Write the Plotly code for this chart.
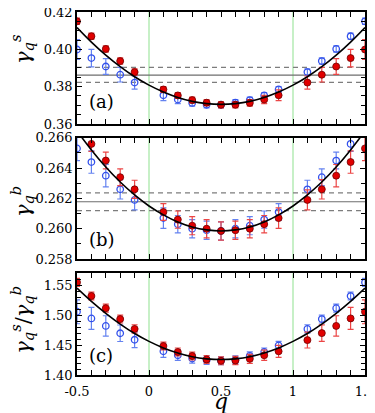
import plotly.graph_objects as go

# q points of the data (no data at q=0 and q=1)
q = [-0.5, -0.4, -0.3, -0.2, -0.1, 0.1, 0.2, 0.3, 0.4, 0.5,
     0.6, 0.7, 0.8, 0.9, 1.1, 1.2, 1.3, 1.4, 1.5]

# panel (a): gamma_q^s
gs_red = [0.4150, 0.4070, 0.4002, 0.3937, 0.3878, 0.3785, 0.3753, 0.3728, 0.3714, 0.3703,
          0.3703, 0.3713, 0.3731, 0.3754, 0.3822, 0.3864, 0.3908, 0.3953, 0.3999]
gs_red_err = [0.0017, 0.0017, 0.0017, 0.0017, 0.0018, 0.0015, 0.0015, 0.0016, 0.0016, 0.0017,
              0.0017, 0.0017, 0.0022, 0.0029, 0.0035, 0.0039, 0.0042, 0.0047, 0.0053]
gs_blue = [0.3999, 0.3953, 0.3908, 0.3864, 0.3822, 0.3754, 0.3731, 0.3713, 0.3703, 0.3703,
           0.3714, 0.3728, 0.3753, 0.3785, 0.3878, 0.3937, 0.4002, 0.4070, 0.4150]
gs_blue_err = [0.0053, 0.0047, 0.0042, 0.0039, 0.0035, 0.0029, 0.0022, 0.0017, 0.0017, 0.0017,
               0.0016, 0.0016, 0.0015, 0.0015, 0.0018, 0.0017, 0.0017, 0.0017, 0.0017]

# panel (b): gamma_q^b
gb_red = [0.2670, 0.2656, 0.2645, 0.2634, 0.2626, 0.2611, 0.2606, 0.2602, 0.2600, 0.25985,
          0.2599, 0.2600, 0.2603, 0.2607, 0.2619, 0.2626, 0.2635, 0.2644, 0.2653]
gb_red_err = [0.0005, 0.0005, 0.00055, 0.00055, 0.0006, 0.00055, 0.00057, 0.0006, 0.0006, 0.0006,
              0.0006, 0.0006, 0.00057, 0.00068, 0.00066, 0.00064, 0.00074, 0.00074, 0.0008]
gb_blue = [0.2653, 0.2644, 0.2635, 0.2626, 0.2619, 0.2607, 0.2603, 0.2600, 0.2599, 0.25985,
           0.2600, 0.2602, 0.2606, 0.2611, 0.2626, 0.2634, 0.2645, 0.2656, 0.2670]
gb_blue_err = [0.0008, 0.00074, 0.00074, 0.00064, 0.00066, 0.00068, 0.00057, 0.0006, 0.0006, 0.0006,
               0.0006, 0.0006, 0.00057, 0.00055, 0.0006, 0.00055, 0.00055, 0.0005, 0.0005]

# panel (c): ratio
gr_red = [1.5548, 1.5320, 1.5117, 1.4935, 1.4770, 1.4484, 1.4385, 1.4318, 1.4260, 1.4237,
          1.4242, 1.4270, 1.4330, 1.4396, 1.4583, 1.4700, 1.4820, 1.4946, 1.5057]
gr_red_err = [0.0066, 0.0066, 0.0066, 0.0066, 0.0070, 0.0066, 0.0066, 0.0066, 0.0066, 0.0066,
              0.0070, 0.0075, 0.0085, 0.0100, 0.0132, 0.0138, 0.0170, 0.0185, 0.0200]
gr_blue = [1.5057, 1.4946, 1.4820, 1.4698, 1.4589, 1.4396, 1.4330, 1.4275, 1.4248, 1.4237,
           1.4253, 1.4320, 1.4385, 1.4495, 1.4770, 1.4935, 1.5117, 1.5320, 1.5548]
gr_blue_err = [0.0200, 0.0185, 0.0170, 0.0138, 0.0132, 0.0100, 0.0085, 0.0075, 0.0070, 0.0066,
               0.0066, 0.0066, 0.0066, 0.0066, 0.0070, 0.0066, 0.0066, 0.0066, 0.0066]

# smooth theory curves
q_fit = [-0.5, -0.4, -0.3, -0.2, -0.1, 0.0, 0.1, 0.2, 0.3, 0.4, 0.5,
         0.6, 0.7, 0.8, 0.9, 1.0, 1.1, 1.2, 1.3, 1.4, 1.5]
gs_fit = [0.4117, 0.4039, 0.3969, 0.3907, 0.3853, 0.3808, 0.3771, 0.3742, 0.3721, 0.3709, 0.3705,
          0.3709, 0.3721, 0.3742, 0.3771, 0.3808, 0.3853, 0.3907, 0.3969, 0.4039, 0.4117]
gb_fit = [0.26645, 0.26520, 0.26407, 0.26308, 0.26223, 0.26150, 0.26091, 0.26044, 0.26011, 0.25992, 0.25985,
          0.25992, 0.26011, 0.26044, 0.26091, 0.26150, 0.26223, 0.26308, 0.26407, 0.26520, 0.26645]
gr_fit = [1.5451, 1.5230, 1.5030, 1.4851, 1.4693, 1.4562, 1.4453, 1.4368, 1.4305, 1.4270, 1.4258,
          1.4270, 1.4305, 1.4368, 1.4453, 1.4562, 1.4693, 1.4851, 1.5030, 1.5230, 1.5451]

# reference levels (mean and +-band)
gs_level = [0.3862, 0.3903, 0.3823]
gb_level = [0.26178, 0.26236, 0.26119]

panel_labels = ["(a)", "(b)", "(c)"]
label_pos = [0.085, 0.06, 0.065]
y_titles = ["<i>γ<sub>q</sub><sup>s</sup></i>", "<i>γ<sub>q</sub><sup>b</sup></i>",
            "<i>γ<sub>q</sub><sup>s</sup></i>/<i>γ<sub>q</sub><sup>b</sup></i>"]
y_title_pos = [0.898, 0.479, 0.152]

SERIF = "DejaVu Serif"
RED = "rgb(225,0,0)"
RED_BAR = "rgb(235,70,70)"
BLUE = "rgb(50,80,235)"
BLUE_BAR = "rgb(100,130,240)"
GREEN = "rgb(180,235,180)"

panels = [
    ("y", gs_red, gs_red_err, gs_blue, gs_blue_err, gs_fit, gs_level),
    ("y2", gb_red, gb_red_err, gb_blue, gb_blue_err, gb_fit, gb_level),
    ("y3", gr_red, gr_red_err, gr_blue, gr_blue_err, gr_fit, None),
]

fig = go.Figure()

for yref, r, re, b, be, fit, lev in panels:
    xref = "x" if yref == "y" else "x" + yref[1:]
    # vertical marks at q=0 and q=1
    for xv in [0, 1]:
        fig.add_shape(type="line", xref=xref, yref=yref + " domain", x0=xv, x1=xv, y0=0, y1=1,
                      line=dict(color=GREEN, width=1.5), layer="below")
    if lev is not None:
        fig.add_shape(type="line", xref=xref + " domain", yref=yref, x0=0, x1=1, y0=lev[0], y1=lev[0],
                      line=dict(color="rgb(110,110,110)", width=1.2), layer="below")
        for lv in lev[1:]:
            fig.add_shape(type="line", xref=xref + " domain", yref=yref, x0=0, x1=1, y0=lv, y1=lv,
                          line=dict(color="rgb(125,125,125)", width=1.2, dash="5px,4px"), layer="below")
    fig.add_trace(go.Scatter(
        x=q, y=b, mode="markers", xaxis=xref, yaxis=yref, showlegend=False,
        error_y=dict(type="data", array=be, color=BLUE_BAR, thickness=1.2, width=3),
        marker=dict(symbol="circle-open", size=6.5, color=BLUE, line=dict(width=1.3))))
    fig.add_trace(go.Scatter(
        x=q, y=r, mode="markers", xaxis=xref, yaxis=yref, showlegend=False,
        error_y=dict(type="data", array=re, color=RED_BAR, thickness=1.2, width=3),
        marker=dict(symbol="circle", size=7, color=RED, line=dict(width=0.8, color="rgb(110,0,0)"))))
    fig.add_trace(go.Scatter(
        x=q_fit, y=fit, mode="lines", line_shape="spline", xaxis=xref, yaxis=yref, showlegend=False,
        line=dict(color="black", width=1.6)))

axis_common = dict(showline=True, linecolor="black", linewidth=1.5, mirror="allticks",
                   ticks="inside", ticklen=5, tickwidth=1.2, tickcolor="black",
                   showgrid=False, zeroline=False, automargin=False, ticklabeloverflow="allow",
                   tickfont=dict(family=SERIF, size=13, color="black"))

x_axis = dict(axis_common, range=[-0.5, 1.5], dtick=0.5, tick0=-0.5,
              minor=dict(dtick=0.1, ticks="inside", ticklen=5, tickwidth=1.2, tickcolor="black"))

# the page body adds an 8px offset, so the figure is laid out 8px up/left
fig.update_layout(
    width=367, height=405,
    margin=dict(l=69, r=10, t=4, b=38),
    plot_bgcolor="white", paper_bgcolor="white",
    font=dict(family=SERIF),
    xaxis=dict(x_axis, domain=[0, 1], anchor="y", showticklabels=False),
    xaxis2=dict(x_axis, domain=[0, 1], anchor="y2", matches="x", showticklabels=False),
    xaxis3=dict(x_axis, domain=[0, 1], anchor="y3", matches="x", tickvals=[-0.5, 0, 0.5, 1, 1.5],
                ticktext=["-0.5", "0", "0.5", "1", "1.5"], ticklabelstandoff=4),
    yaxis=dict(axis_common, domain=[0.6915, 1.0], anchor="x", range=[0.36, 0.42], dtick=0.02,
               tickformat=".2f",
               minor=dict(dtick=0.005, ticks="inside", ticklen=4, tickwidth=1, tickcolor="black")),
    yaxis2=dict(axis_common, domain=[0.3196, 0.6534], anchor="x2", range=[0.258, 0.266], dtick=0.002,
                tickformat=".3f",
                minor=dict(dtick=0.001, ticks="inside", ticklen=4, tickwidth=1, tickcolor="black")),
    yaxis3=dict(axis_common, domain=[0.0, 0.2802], anchor="x3", range=[1.40, 1.57], dtick=0.05,
                tickformat=".2f",
                minor=dict(dtick=0.01, ticks="inside", ticklen=4, tickwidth=1, tickcolor="black")),
)

for i, yref in enumerate(["y", "y2", "y3"]):
    xref = "x" if yref == "y" else "x" + yref[1:]
    fig.add_annotation(text=panel_labels[i], xref=xref + " domain", yref=yref + " domain",
                       x=0.035, y=label_pos[i], xanchor="left", yanchor="bottom", showarrow=False,
                       font=dict(family=SERIF, size=18, color="black"))
    fig.add_annotation(text=y_titles[i], xref="paper", yref="paper", x=-0.191, y=y_title_pos[i],
                       xanchor="center", yanchor="middle", textangle=-90, showarrow=False,
                       font=dict(family=SERIF, size=21, color="black"))

# x axis title
fig.add_annotation(text="<i>q</i>", xref="paper", yref="paper", x=0.5, y=-0.113,
                   xanchor="center", yanchor="bottom", showarrow=False,
                   font=dict(family=SERIF, size=22, color="black"))

fig.write_html("out.html")
